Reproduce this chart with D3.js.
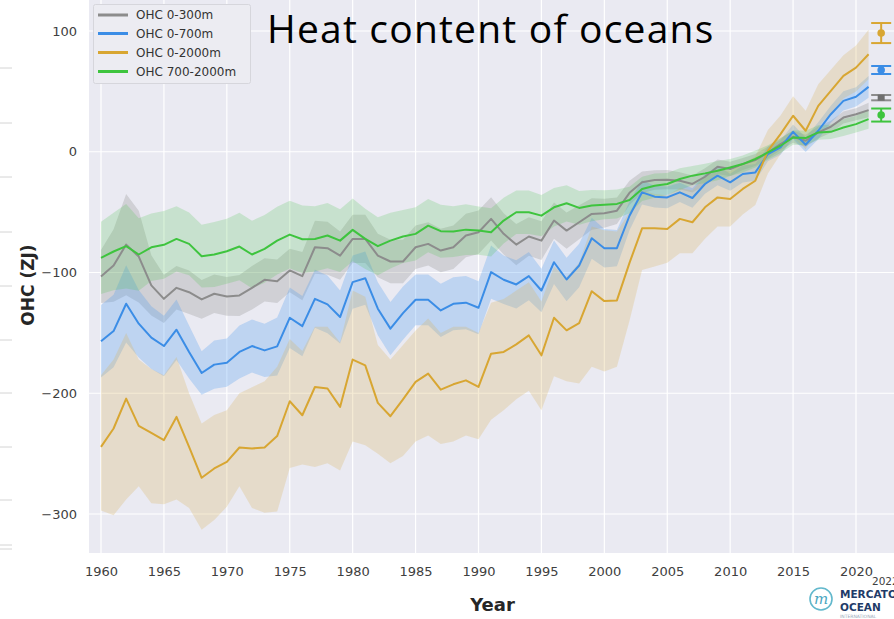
<!DOCTYPE html>
<html>
<head>
<meta charset="utf-8">
<script src="https://cdn.jsdelivr.net/npm/d3@7"></script>
<style>
  html, body { margin: 0; padding: 0; background: #ffffff; }
  svg { display: block; }
</style>
</head>
<body>
<svg id="chart" width="894" height="619"></svg>
<script>
// ---- Ocean heat content anomalies (ZJ), yearly 1960-2021 ----
const years = [
  1960, 1961, 1962, 1963, 1964, 1965, 1966, 1967, 1968, 1969,
  1970, 1971, 1972, 1973, 1974, 1975, 1976, 1977, 1978, 1979,
  1980, 1981, 1982, 1983, 1984, 1985, 1986, 1987, 1988, 1989,
  1990, 1991, 1992, 1993, 1994, 1995, 1996, 1997, 1998, 1999,
  2000, 2001, 2002, 2003, 2004, 2005, 2006, 2007, 2008, 2009,
  2010, 2011, 2012, 2013, 2014, 2015, 2016, 2017, 2018, 2019,
  2020, 2021
];

const ohc0_300 = [
  -103.3, -94.2, -76.9, -86.8, -110.7, -121.8, -112.7, -116.3, -122.3, -117.6,
  -119.8, -119.0, -112.7, -106.1, -107.2, -98.3, -103.0, -79.1, -79.9, -86.0,
  -72.2, -72.2, -86.0, -90.9, -90.9, -79.1, -76.3, -81.8, -79.1, -69.4,
  -66.7, -55.6, -68.0, -76.9, -70.2, -73.6, -57.0, -65.3, -58.4, -51.5,
  -51.0, -48.8, -34.0, -25.3, -23.4, -23.1, -24.0, -26.7, -20.7, -12.4,
  -14.3, -10.2, -6.9, -0.6, 6.3, 12.4, 9.1, 16.0, 20.7, 28.3,
  31.1, 34.5
];
// half-width of the spread around the 0-300m curve
const ohc0_300Unc = [
  22, 30, 42, 38, 25, 20, 18, 18, 16, 16,
  16, 17, 18, 18, 18, 18, 20, 22, 22, 20,
  20, 20, 18, 18, 18, 18, 18, 18, 18, 18,
  18, 18, 17, 17, 16, 16, 15, 15, 14, 13,
  12, 11, 10, 9, 8, 8, 7, 7, 7, 6,
  6, 5, 5, 5, 5, 5, 5, 5, 5, 5,
  5, 6
];

const ohc0_700 = [
  -157.0, -148.5, -125.9, -142.4, -154.0, -160.9, -147.4, -165.8, -183.2, -176.3,
  -174.7, -165.8, -160.9, -164.5, -161.2, -137.5, -144.4, -121.8, -126.4, -136.9,
  -108.0, -104.7, -130.0, -146.5, -133.6, -122.6, -122.6, -131.4, -125.9, -125.0,
  -129.2, -99.7, -106.0, -109.9, -103.0, -114.9, -91.5, -105.8, -94.2, -71.6,
  -79.9, -79.9, -53.0, -33.6, -37.2, -37.8, -33.6, -38.3, -26.7, -19.8,
  -25.3, -18.4, -17.1, -1.9, 3.6, 16.5, 5.8, 17.4, 31.1, 42.1,
  45.5, 53.7
];
const ohc0_700Unc = [
  30, 30, 32, 28, 26, 25, 25, 22, 18, 20,
  20, 22, 22, 22, 24, 25, 25, 24, 24, 22,
  22, 22, 22, 22, 22, 21, 21, 22, 22, 22,
  22, 22, 20, 20, 20, 18, 18, 18, 18, 17,
  16, 15, 12, 10, 9, 9, 8, 8, 8, 8,
  7, 7, 7, 6, 6, 6, 6, 7, 7, 8,
  8, 9
];

const ohc0_2000 = [
  -244.4, -229.2, -204.4, -227.0, -232.8, -238.8, -219.6, -244.4, -270.0, -262.3,
  -256.8, -244.9, -245.7, -244.9, -235.5, -206.6, -218.2, -194.8, -196.1, -211.3,
  -172.1, -176.9, -208.0, -219.0, -205.0, -190.6, -183.7, -197.0, -192.6, -189.3,
  -194.8, -167.2, -165.8, -159.5, -152.1, -168.6, -137.5, -147.9, -141.9, -115.5,
  -123.7, -123.1, -92.0, -63.4, -63.4, -63.9, -55.6, -58.4, -46.0, -37.8,
  -39.1, -30.8, -24.0, 0.8, 14.6, 29.8, 17.4, 38.0, 50.4, 62.8,
  69.7, 80.7
];
// lower / upper edge of the 0-2000m spread
const ohc0_2000Low = [
  -297, -301, -288, -277, -291, -292, -288, -295, -313, -305,
  -294, -277, -295, -299, -298, -262, -259, -261, -258, -264,
  -240, -243, -250, -258, -252, -240, -235, -242, -240, -235,
  -238, -222, -214, -205, -198, -214, -186, -190, -192, -178,
  -182, -178, -140, -98, -95, -92, -84, -84, -72, -62,
  -62, -52, -44, -18, -2, 12, 2, 20, 32, 44,
  50, 60
];
const ohc0_2000High = [
  -185, -172, -150, -172, -180, -185, -170, -200, -225, -218,
  -214, -200, -195, -190, -178, -155, -165, -145, -145, -158,
  -115, -120, -160, -172, -160, -148, -138, -150, -145, -145,
  -150, -125, -122, -115, -108, -124, -95, -104, -92, -62,
  -65, -66, -50, -32, -35, -36, -30, -32, -20, -14,
  -16, -10, -4, 18, 30, 46, 34, 56, 68, 80,
  88, 101
];

const ohc700_2000 = [
  -87.9, -82.6, -78.2, -85.1, -79.1, -77.1, -72.2, -76.3, -86.5, -85.1,
  -82.4, -78.5, -85.1, -80.4, -73.6, -68.6, -72.5, -72.2, -69.4, -73.6,
  -64.7, -72.2, -78.2, -73.6, -70.2, -68.0, -61.2, -65.8, -66.1, -64.5,
  -65.3, -66.7, -57.0, -50.1, -50.1, -52.9, -46.0, -42.7, -46.5, -44.6,
  -43.8, -43.2, -39.9, -30.8, -28.1, -26.7, -22.6, -19.8, -17.9, -15.7,
  -13.0, -10.2, -6.0, -0.6, 5.0, 11.8, 11.3, 16.0, 16.5, 20.1,
  22.9, 27.0
];
const ohc700_2000Unc = [
  30, 32, 35, 30, 28, 28, 27, 26, 26, 27,
  27, 28, 28, 28, 28, 28, 28, 27, 27, 26,
  26, 25, 24, 23, 22, 22, 22, 22, 21, 21,
  20, 20, 19, 18, 18, 17, 16, 15, 14, 13,
  12, 12, 11, 10, 10, 9, 9, 8, 8, 8,
  7, 7, 7, 6, 6, 6, 6, 6, 6, 7,
  7, 8
];

// 2022 estimates with their uncertainty
const latestYear = 2022;
const latestValues = [44.8, 67.7, 98.3, 30.4];
const latestUnc = [2.2, 3.3, 8.3, 5.4];

const seriesNames = ["OHC 0-300m", "OHC 0-700m", "OHC 0-2000m", "OHC 700-2000m"];
const seriesColors = ["#8c8c8c", "#3b8de6", "#d8a632", "#3ec43e"];
const bandColors = ["#8c8c8c", "#4a9cf0", "#d9b25a", "#4cc24c"];
const bandOpacity = [0.28, 0.28, 0.26, 0.22];

const yTicks = [100, 0, -100, -200, -300];
const xTicks = [1960, 1965, 1970, 1975, 1980, 1985, 1990, 1995, 2000, 2005, 2010, 2015, 2020];

// lower/upper bounds for each band: explicit edges where given, else value ± half-width
const series = [
  { values: ohc0_300, low: ohc0_300.map((v, k) => v - ohc0_300Unc[k]), high: ohc0_300.map((v, k) => v + ohc0_300Unc[k]) },
  { values: ohc0_700, low: ohc0_700.map((v, k) => v - ohc0_700Unc[k]), high: ohc0_700.map((v, k) => v + ohc0_700Unc[k]) },
  { values: ohc0_2000, low: ohc0_2000Low, high: ohc0_2000High },
  { values: ohc700_2000, low: ohc700_2000.map((v, k) => v - ohc700_2000Unc[k]), high: ohc700_2000.map((v, k) => v + ohc700_2000Unc[k]) }
];

// ---- layout ----
const plot = { left: 89, right: 894, top: 0, bottom: 553 };
const svg = d3.select("#chart");

const x = d3.scaleLinear().domain([1960, 2020]).range([101, 856]);
const y = d3.scaleLinear().domain([-300, 100]).range([514, 31]);

// slide remnants on the far left edge
const edgeMarks = [68, 123, 177, 232, 286, 340, 393, 447, 500, 545, 549];
svg.append("g").selectAll("line").data(edgeMarks).join("line")
  .attr("x1", 0).attr("x2", 12)
  .attr("y1", d => d).attr("y2", d => d)
  .attr("stroke", "#d4d4d4").attr("stroke-width", 1);

// plot background
svg.append("rect")
  .attr("x", plot.left).attr("y", plot.top)
  .attr("width", plot.right - plot.left).attr("height", plot.bottom - plot.top)
  .attr("fill", "#eaeaf2");

svg.append("clipPath").attr("id", "plotClip")
  .append("rect")
  .attr("x", plot.left).attr("y", plot.top)
  .attr("width", plot.right - plot.left).attr("height", plot.bottom - plot.top);

// grid
const grid = svg.append("g").attr("clip-path", "url(#plotClip)");
grid.selectAll("line.h").data(yTicks).join("line")
  .attr("class", "h")
  .attr("x1", plot.left).attr("x2", plot.right)
  .attr("y1", d => y(d)).attr("y2", d => y(d))
  .attr("stroke", "#ffffff").attr("stroke-width", 1.2);
grid.selectAll("line.v").data(xTicks).join("line")
  .attr("class", "v")
  .attr("x1", d => x(d)).attr("x2", d => x(d))
  .attr("y1", plot.top).attr("y2", plot.bottom)
  .attr("stroke", "#ffffff").attr("stroke-width", 1.2);

const marks = svg.append("g").attr("clip-path", "url(#plotClip)");

// spread bands
const area = d3.area()
  .x(d => x(d.year))
  .y0(d => y(d.lo))
  .y1(d => y(d.hi));

series.forEach((s, i) => {
  const pts = years.map((yr, k) => ({ year: yr, lo: s.low[k], hi: s.high[k] }));
  marks.append("path")
    .datum(pts)
    .attr("d", area)
    .attr("fill", bandColors[i])
    .attr("fill-opacity", bandOpacity[i])
    .attr("stroke", "none");
});

// central curves
const line = d3.line().x(d => x(d.year)).y(d => y(d.v));
series.forEach((s, i) => {
  const pts = years.map((yr, k) => ({ year: yr, v: s.values[k] }));
  marks.append("path")
    .datum(pts)
    .attr("d", line)
    .attr("fill", "none")
    .attr("stroke", seriesColors[i])
    .attr("stroke-width", 2)
    .attr("stroke-linejoin", "round");
});

// 2022 estimates with error bars
const eb = marks.append("g");
latestValues.forEach((v, i) => {
  const cx = x(latestYear);
  const top = y(v + latestUnc[i]), bot = y(v - latestUnc[i]);
  const g = eb.append("g").attr("stroke", seriesColors[i]).attr("stroke-width", 2);
  g.append("line").attr("x1", cx).attr("x2", cx).attr("y1", top).attr("y2", bot);
  g.append("line").attr("x1", cx - 10).attr("x2", cx + 10).attr("y1", top).attr("y2", top);
  g.append("line").attr("x1", cx - 10).attr("x2", cx + 10).attr("y1", bot).attr("y2", bot);
  if (i === 0) {
    eb.append("rect").attr("x", cx - 3.5).attr("y", y(v) - 3).attr("width", 7).attr("height", 6)
      .attr("fill", "#6f6f6f");
  } else {
    eb.append("circle").attr("cx", cx).attr("cy", y(v)).attr("r", 3.8)
      .attr("fill", seriesColors[i]);
  }
});

// axes
const tickFont = "'DejaVu Sans', sans-serif";
const xAxis = svg.append("g")
  .attr("transform", `translate(0,${plot.bottom})`)
  .call(d3.axisBottom(x).tickValues(xTicks).tickFormat(d3.format("d")).tickSize(0).tickPadding(14));
const yAxis = svg.append("g")
  .attr("transform", `translate(${plot.left},0)`)
  .call(d3.axisLeft(y).tickValues(yTicks).tickFormat(d => d < 0 ? "\u2212" + Math.abs(d) : String(d)).tickSize(0).tickPadding(12));
[xAxis, yAxis].forEach(a => {
  a.select(".domain").remove();
  a.selectAll("text")
    .attr("font-family", tickFont)
    .attr("font-size", 13)
    .attr("fill", "#404040");
});

svg.append("text")
  .attr("x", 872).attr("y", 585)
  .attr("font-family", tickFont).attr("font-size", 10.5)
  .attr("fill", "#404040")
  .text("2022");

// axis titles
svg.append("text")
  .attr("x", 492.5).attr("y", 611)
  .attr("text-anchor", "middle")
  .attr("font-family", tickFont).attr("font-weight", "bold").attr("font-size", 18)
  .attr("fill", "#262626")
  .text("Year");
svg.append("text")
  .attr("transform", "translate(34,285) rotate(-90)")
  .attr("text-anchor", "middle")
  .attr("font-family", tickFont).attr("font-weight", "bold").attr("font-size", 17)
  .attr("fill", "#262626")
  .text("OHC (ZJ)");

// legend
const legend = svg.append("g");
legend.append("rect")
  .attr("x", 93.5).attr("y", 4.5).attr("width", 157).attr("height", 79)
  .attr("rx", 2)
  .attr("fill", "#ececf2").attr("stroke", "#d6d6dc").attr("stroke-width", 1);
const legendY = [15, 33.5, 52.5, 71.5];
seriesNames.forEach((name, i) => {
  legend.append("line")
    .attr("x1", 98).attr("x2", 128)
    .attr("y1", legendY[i]).attr("y2", legendY[i])
    .attr("stroke", seriesColors[i]).attr("stroke-width", 3);
  legend.append("text")
    .attr("x", 136).attr("y", legendY[i] + 4.3)
    .attr("font-family", tickFont).attr("font-size", 12)
    .attr("fill", "#333333")
    .text(name);
});

// title
svg.append("text")
  .attr("x", 267).attr("y", 42.5)
  .attr("font-family", "'Open Sans', Lato, sans-serif")
  .attr("font-size", 39)
  .attr("letter-spacing", 1.2)
  .attr("fill", "#000000")
  .text("Heat content of oceans");

// Mercator Ocean mark
const logo = svg.append("g");
logo.append("circle").attr("cx", 821).attr("cy", 599).attr("r", 11)
  .attr("fill", "none").attr("stroke", "#62b8cc").attr("stroke-width", 1.6);
logo.append("text").attr("x", 821).attr("y", 603.5)
  .attr("text-anchor", "middle")
  .attr("font-family", "'DejaVu Serif', serif").attr("font-style", "italic")
  .attr("font-size", 15).attr("fill", "#4aa6bf")
  .text("m");
logo.append("text").attr("x", 840).attr("y", 598)
  .attr("font-family", "'DejaVu Sans', sans-serif").attr("font-weight", "bold")
  .attr("font-size", 10.5).attr("fill", "#1f3b68")
  .text("MERCATOR");
logo.append("text").attr("x", 840).attr("y", 610.5)
  .attr("font-family", "'DejaVu Sans', sans-serif").attr("font-weight", "bold")
  .attr("font-size", 10.5).attr("fill", "#1f3b68")
  .text("OCEAN");
logo.append("text").attr("x", 840).attr("y", 617.5)
  .attr("font-family", "'DejaVu Sans', sans-serif")
  .attr("font-size", 4.5).attr("fill", "#9aa7b8")
  .text("INTERNATIONAL");
</script>
</body>
</html>
